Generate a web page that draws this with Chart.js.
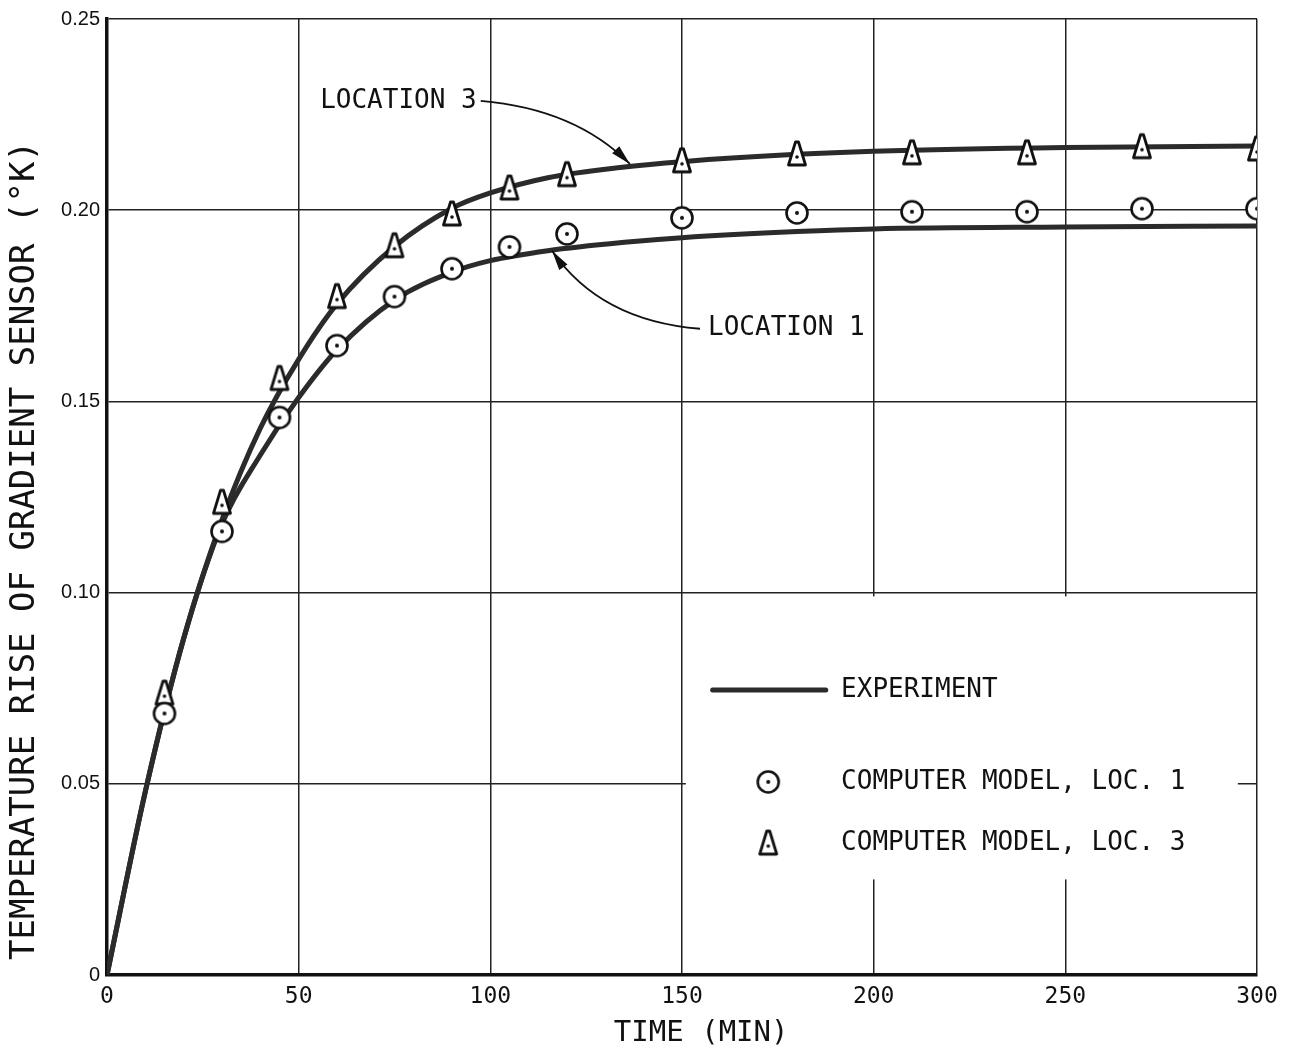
<!DOCTYPE html>
<html>
<head>
<meta charset="utf-8">
<script src="https://cdn.jsdelivr.net/npm/chart.js@4/dist/chart.umd.min.js"></script>
<style>
  html, body { margin: 0; padding: 0; background: #fff; }
  #wrap { width: 1295px; height: 1051px; position: relative; }
</style>
</head>
<body>
<div id="wrap"><canvas id="c" width="1295" height="1051"></canvas></div>
<script>
// ---- Data ----
const expTime = [0, 10, 20, 30, 40, 50, 60, 75, 90, 100, 115, 135, 150, 180, 200, 250, 300];
const expLoc3 = [0, 0.048, 0.088, 0.119, 0.143, 0.161, 0.1755, 0.1905, 0.2005, 0.2045, 0.2085, 0.2113, 0.2127, 0.2146, 0.2154, 0.2164, 0.2168];
const expLoc1 = [0, 0.048, 0.088, 0.118, 0.136, 0.151, 0.1635, 0.1765, 0.1838, 0.1868, 0.1894, 0.1916, 0.1928, 0.1944, 0.1951, 0.1956, 0.1959];

const modelTime = [15, 30, 45, 60, 75, 90, 105, 120, 150, 180, 210, 240, 270, 300];
const modelLoc1 = [0.0684, 0.116, 0.1458, 0.1646, 0.1774, 0.1847, 0.1904, 0.1938, 0.198, 0.1993, 0.1996, 0.1996, 0.2004, 0.2004];
const modelLoc3 = [0.0737, 0.1236, 0.156, 0.1774, 0.1907, 0.199, 0.2058, 0.2093, 0.2129, 0.2147, 0.215, 0.215, 0.2166, 0.216];

const xTicks = [0, 50, 100, 150, 200, 250, 300];
const yTicks = [0, 0.05, 0.10, 0.15, 0.20, 0.25];
const yTickLabels = ['0', '0.05', '0.10', '0.15', '0.20', '0.25'];

const xTitle = 'TIME (MIN)';
const yTitle = 'TEMPERATURE RISE OF GRADIENT SENSOR (\u00B0K)';
const legendLabels = ['EXPERIMENT', 'COMPUTER MODEL, LOC. 1', 'COMPUTER MODEL, LOC. 3'];
const annLoc3 = 'LOCATION 3';
const annLoc1 = 'LOCATION 1';

// ---- Marker images ----
const INK = '#111';
const LINE = '#2b2b2b';
function circleMarker() {
  const c = document.createElement('canvas');
  c.width = 28; c.height = 28;
  const g = c.getContext('2d');
  g.fillStyle = '#fff';
  g.strokeStyle = INK; g.lineWidth = 2.6;
  g.beginPath(); g.arc(14, 14, 10.5, 0, Math.PI * 2); g.fill(); g.stroke();
  g.fillStyle = INK;
  g.beginPath(); g.arc(14, 14, 2, 0, Math.PI * 2); g.fill();
  return c;
}
function triangleMarker() {
  const c = document.createElement('canvas');
  c.width = 24; c.height = 30;
  const g = c.getContext('2d');
  g.fillStyle = '#fff';
  g.strokeStyle = INK; g.lineWidth = 2.8; g.lineJoin = 'round';
  g.beginPath();
  g.moveTo(10.5, 3); g.lineTo(13.5, 3);
  g.lineTo(20.5, 26); g.lineTo(3.5, 26); g.closePath();
  g.fill(); g.stroke();
  g.fillStyle = INK;
  g.beginPath(); g.arc(12, 18, 1.8, 0, Math.PI * 2); g.fill();
  return c;
}
const circImg = circleMarker();
const triImg = triangleMarker();

const MONO = '"DejaVu Sans Mono", "Liberation Mono", monospace';

// ---- Plugins ----
const whiteBg = {
  id: 'whiteBg',
  beforeDraw(chart) {
    const ctx = chart.ctx;
    ctx.save(); ctx.fillStyle = '#fff'; ctx.fillRect(0, 0, chart.width, chart.height); ctx.restore();
  }
};

function arrowHead(ctx, fromX, fromY, tipX, tipY) {
  const ang = Math.atan2(tipY - fromY, tipX - fromX);
  const len = 20, half = 5;
  ctx.beginPath();
  ctx.moveTo(tipX, tipY);
  ctx.lineTo(tipX - len * Math.cos(ang) + half * Math.sin(ang), tipY - len * Math.sin(ang) - half * Math.cos(ang));
  ctx.lineTo(tipX - len * Math.cos(ang) - half * Math.sin(ang), tipY - len * Math.sin(ang) + half * Math.cos(ang));
  ctx.closePath();
  ctx.fill();
}

const overlay = {
  id: 'overlay',
  afterDraw(chart) {
    const ctx = chart.ctx;
    const X = v => chart.scales.x.getPixelForValue(v);
    const Y = v => chart.scales.y.getPixelForValue(v);
    ctx.save();

    // legend box (white, covers grid)
    ctx.fillStyle = '#fff';
    ctx.fillRect(X(151), Y(0.0990), X(295) - X(151), Y(0.0250) - Y(0.0990));

    ctx.font = '26px ' + MONO;
    ctx.textBaseline = 'middle';
    ctx.textAlign = 'left';
    ctx.fillStyle = INK;

    // legend rows
    ctx.strokeStyle = LINE; ctx.lineWidth = 5; ctx.lineCap = 'round';
    ctx.beginPath(); ctx.moveTo(X(158), Y(0.0745)); ctx.lineTo(X(187.5), Y(0.0745)); ctx.stroke();
    ctx.fillText(legendLabels[0], X(191.5), Y(0.0745));
    ctx.drawImage(circImg, X(172.5) - circImg.width / 2, Y(0.0505) - circImg.height / 2);
    ctx.fillText(legendLabels[1], X(191.5), Y(0.0505));
    ctx.drawImage(triImg, X(172.5) - triImg.width / 2, Y(0.0345) - triImg.height / 2);
    ctx.fillText(legendLabels[2], X(191.5), Y(0.0345));

    // annotations
    ctx.fillText(annLoc3, X(55.6), Y(0.2286));
    ctx.fillText(annLoc1, X(156.8), Y(0.1690));

    ctx.lineWidth = 1.8; ctx.strokeStyle = INK; ctx.lineCap = 'butt';
    let sx = X(97.5), sy = Y(0.2286), cx = X(122.1), cy = Y(0.2265), tx = X(136.4), ty = Y(0.2121);
    ctx.beginPath(); ctx.moveTo(sx, sy); ctx.quadraticCurveTo(cx, cy, tx, ty); ctx.stroke();
    arrowHead(ctx, cx, cy, tx, ty);
    sx = X(154.7); sy = Y(0.1690); cx = X(128.6); cy = Y(0.1711); tx = X(116.1); ty = Y(0.1894);
    ctx.beginPath(); ctx.moveTo(sx, sy); ctx.quadraticCurveTo(cx, cy, tx, ty); ctx.stroke();
    arrowHead(ctx, cx, cy, tx, ty);

    // axis titles
    ctx.textAlign = 'center';
    ctx.font = '29px ' + MONO;
    ctx.fillText(xTitle, X(155), 1033);
    ctx.translate(25, Y(0.111));
    ctx.rotate(-Math.PI / 2);
    ctx.font = '34px ' + MONO;
    ctx.fillText(yTitle, 0, 0);

    ctx.restore();
  }
};

// ---- Chart ----
const toXY = (xs, ys) => xs.map((x, i) => ({ x, y: ys[i] }));

new Chart(document.getElementById('c'), {
  type: 'scatter',
  data: {
    datasets: [
      { label: 'Experiment, Loc. 3', data: toXY(expTime, expLoc3), showLine: true, borderColor: LINE, borderWidth: 5,
        pointRadius: 0, cubicInterpolationMode: 'monotone', order: 2 },
      { label: 'Experiment, Loc. 1', data: toXY(expTime, expLoc1), showLine: true, borderColor: LINE, borderWidth: 5,
        pointRadius: 0, cubicInterpolationMode: 'monotone', order: 2 },
      { label: legendLabels[1], data: toXY(modelTime, modelLoc1), showLine: false, pointStyle: circImg, order: 1 },
      { label: legendLabels[2], data: toXY(modelTime, modelLoc3), showLine: false, pointStyle: triImg, order: 1 }
    ]
  },
  options: {
    responsive: false,
    animation: false,
    layout: { padding: { left: 0, top: 18, right: 38, bottom: 0 } },
    plugins: { legend: { display: false }, tooltip: { enabled: false } },
    scales: {
      x: {
        type: 'linear', min: 0, max: 300,
        afterBuildTicks: s => { s.ticks = xTicks.map(v => ({ value: v })); },
        afterFit: s => { s.height = 76; },
        grid: { color: '#222', lineWidth: 1.5, drawTicks: false },
        border: { color: '#111', width: 3.5 },
        ticks: { color: INK, padding: 8, font: { family: MONO, size: 23 }, maxRotation: 0 },
        title: { display: false }
      },
      y: {
        type: 'linear', min: 0, max: 0.25,
        afterBuildTicks: s => { s.ticks = yTicks.map(v => ({ value: v })); },
        afterFit: s => { s.width = 107; },
        grid: { color: '#222', lineWidth: 1.5, drawTicks: false },
        border: { color: '#111', width: 3.5 },
        ticks: { color: INK, padding: 7, font: { family: '"Liberation Sans", Arial, sans-serif', size: 20 },
          callback: (v) => { const i = yTicks.findIndex(t => Math.abs(t - v) < 1e-9); return i >= 0 ? yTickLabels[i] : ''; } },
        title: { display: false }
      }
    }
  },
  plugins: [whiteBg, overlay]
});
</script>
</body>
</html>
